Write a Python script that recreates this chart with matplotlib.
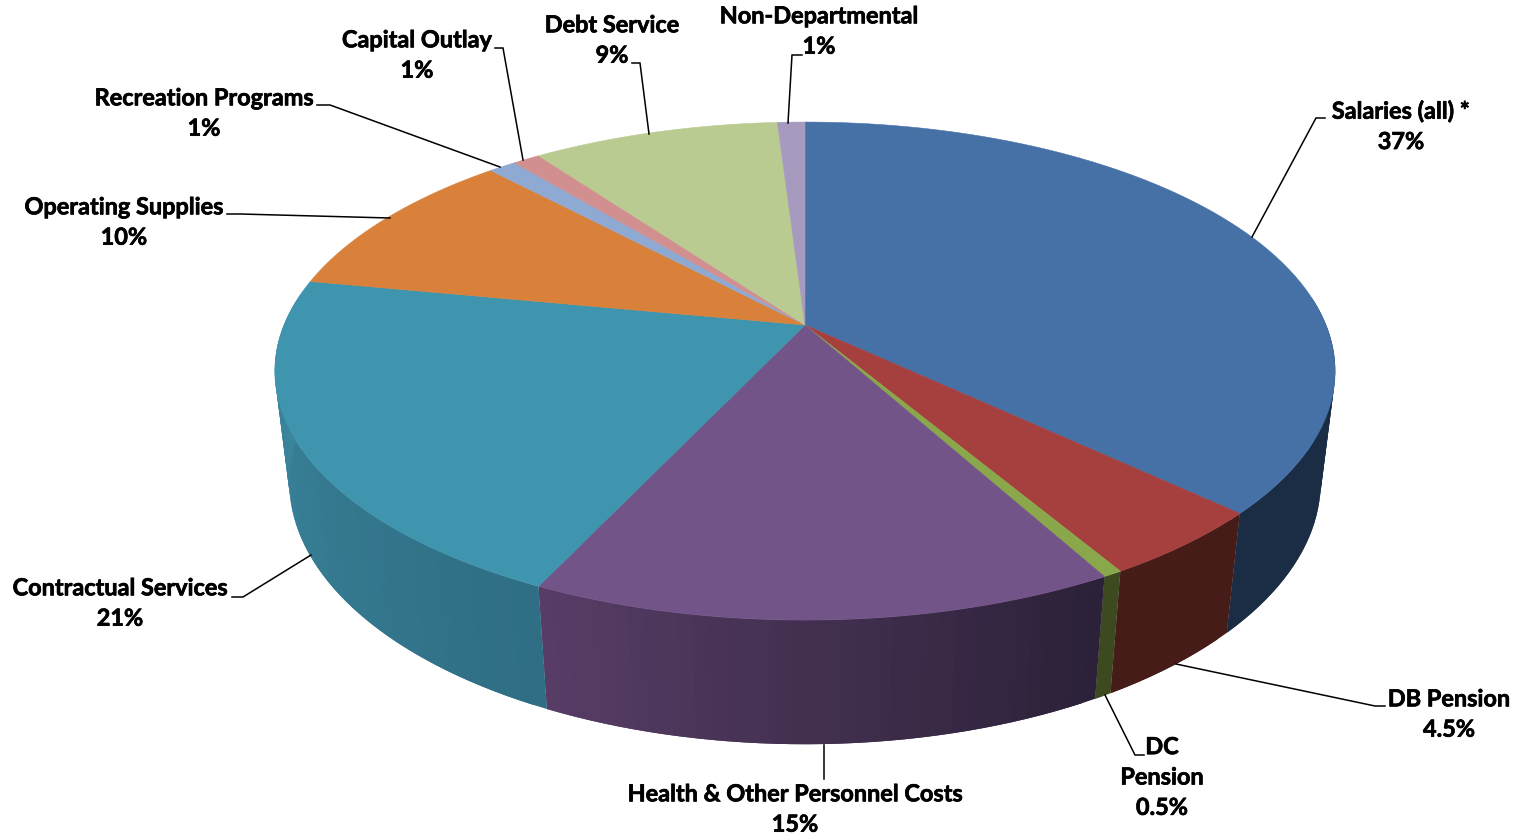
"""
Budget expenditure by category, drawn as a tilted 3D pie.

Output: out.png
"""

import numpy as np
import matplotlib
matplotlib.use('Agg')
import matplotlib.pyplot as plt
import matplotlib.patheffects as pe
from matplotlib.colors import to_rgb
from matplotlib.patches import Polygon

# ==================== data ====================

CATEGORIES = [
    'Salaries (all) *', 'DB Pension', 'DC\nPension',
    'Health & Other Personnel Costs', 'Contractual Services',
    'Operating Supplies', 'Recreation Programs', 'Capital Outlay',
    'Debt Service', 'Non-Departmental',
]
SHARES = [37, 4.5, 0.5, 15, 21, 10, 1, 1, 9, 1]

# ==================== style ====================

TOP_COLORS = ['#4671a7', '#a5403e', '#8aa84b', '#735489', '#3f94ae',
              '#d9813a', '#8ea9d2', '#d18f90', '#b9cb91', '#a79abf']
# wall colour at the start and end of each slice (clockwise)
WALL_COLORS = [
    ('#1a2d45', '#1a2d45'), ('#451c18', '#451c18'), ('#3d4a20', '#3d4a20'),
    ('#2b2138', '#573d66'), ('#2f6e84', '#3d8aa2'), ('#a0602a', '#a0602a'),
    ('#697d9c', '#697d9c'), ('#9b6a6b', '#9b6a6b'), ('#89966b', '#89966b'),
    ('#7b728d', '#7b728d'),
]

# label block centre and leader polyline (pixels), same order as CATEGORIES
LABEL_POS = [(1401, 127), (1449, 715), (1162, 778), (795, 810), (120, 604),
             (124, 223), (204, 114), (417, 56), (612, 41), (819, 32)]
LEADERS = [
    [(1325, 118), (1316, 118), (1252, 237)],
    [(1385, 706), (1375, 706), (1176, 664)],
    [(1144, 755), (1135, 755), (1105, 695)],
    [(824, 745), (824, 779)],
    [(232, 597), (243, 597), (311, 555)],
    [(227, 214), (240, 214), (390, 218)],
    [(317, 105), (330, 105), (500, 167)],
    [(495, 48), (503, 48), (523, 160)],
    [(632, 63), (640, 63), (649, 134)],
    [(802, 55), (792, 55), (788, 123)],
]

FONT_SIZE = 16.9

# perspective of the pie
CX, CY = 805, 325
SCALE_X, SCALE_Y = 521, 240.5
TILT = 0.185        # foreshortening from front to back
DEPTH_Y = 112.5     # wall height
DEPTH_K = 0.027     # bottom rim sits slightly further away


def project(theta, radius=1.0, depth=0.0):
    """theta in radians, clockwise from 12 o'clock -> pixel coordinates"""
    u = radius * np.sin(theta)
    v = radius * np.cos(theta)
    w = 1 + TILT * v + DEPTH_K * depth
    return CX + SCALE_X * u / w, CY + (-SCALE_Y * v + DEPTH_Y * depth) / w


def draw_walls(ax, edges):
    """Quads around the front rim, each overlapping the next to hide seams"""
    for i in range(len(SHARES)):
        n = max(2, int(np.degrees(edges[i + 1] - edges[i]) / 1.5))
        ts = np.linspace(edges[i], edges[i + 1], n + 1)
        start, end = (np.array(to_rgb(c)) for c in WALL_COLORS[i])
        for j in range(n):
            # the back of the wall sits behind the top face
            if np.cos(ts[j]) > 0.1 and np.cos(ts[j + 1]) > 0.1:
                continue
            arc = ts[j:j + 3]
            top = list(zip(*project(arc)))
            bottom = list(zip(*project(arc, depth=1)))
            color = start + (end - start) * j / max(n - 1, 1)
            ax.add_patch(Polygon(top + bottom[::-1], closed=True,
                                 facecolor=color, edgecolor='none', zorder=1))


def draw_top(ax, edges):
    for i, color in enumerate(TOP_COLORS):
        ts = np.linspace(edges[i], edges[i + 1], 80)
        xs, ys = project(ts)
        points = [(CX, CY)] + list(zip(xs, ys))
        ax.add_patch(Polygon(points, closed=True, facecolor=color,
                             edgecolor=color, linewidth=0.4, zorder=2))


def draw_labels(ax):
    heavier = [pe.withStroke(linewidth=0.5, foreground='black')]
    for name, share, pos, leader in zip(CATEGORIES, SHARES, LABEL_POS, LEADERS):
        ax.text(pos[0], pos[1], f'{name}\n{share:g}%', ha='center', va='center',
                fontsize=FONT_SIZE, fontweight='bold', color='black',
                family=['Lato', 'DejaVu Sans'], linespacing=1.55, zorder=4,
                path_effects=heavier)
        xs, ys = zip(*leader)
        ax.plot(xs, ys, color='black', linewidth=1.1, zorder=3,
                solid_joinstyle='miter')


def main():
    fig = plt.figure(figsize=(15.2, 8.39), dpi=100)
    ax = fig.add_axes([0, 0, 1, 1])
    ax.set_xlim(0, 1520)
    ax.set_ylim(839, 0)
    ax.axis('off')

    shares = np.array(SHARES, dtype=float)
    edges = np.concatenate([[0], np.cumsum(shares)]) / shares.sum() * 2 * np.pi

    draw_walls(ax, edges)
    draw_top(ax, edges)
    draw_labels(ax)

    fig.savefig('out.png', dpi=100, facecolor='white')
    plt.close(fig)


if __name__ == '__main__':
    main()
